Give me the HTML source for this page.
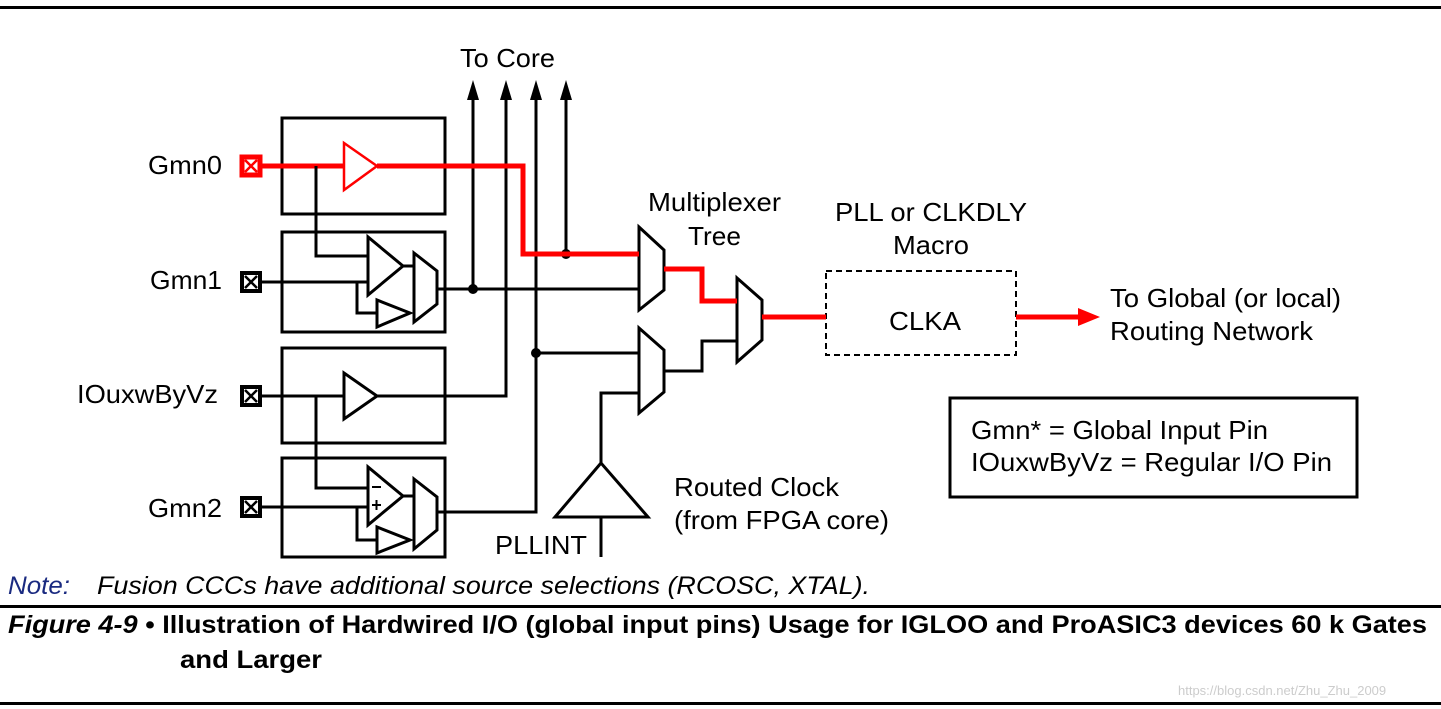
<!DOCTYPE html>
<html><head><meta charset="utf-8"><style>
body{margin:0;background:#fff;}
svg{display:block;font-family:"Liberation Sans",Arial,sans-serif;}
</style></head><body>
<svg width="1441" height="709" viewBox="0 0 1441 709" xmlns="http://www.w3.org/2000/svg">
<rect x="0" y="6" width="1441" height="3" fill="#000"/>
<rect x="0" y="605" width="1441" height="3" fill="#000"/>
<rect x="0" y="702" width="1441" height="3" fill="#000"/>
<g fill="none" stroke="#000" stroke-width="3">
<rect x="282" y="118" width="163" height="96"/>
<rect x="282" y="232" width="163" height="100"/>
<rect x="282" y="348" width="163" height="95"/>
<rect x="282" y="458" width="163" height="99"/>
<polyline points="316,166 316,256 368,256"/>
<line x1="262" y1="282" x2="368" y2="282"/>
<polyline points="357,282 357,313 377,313"/>
<polygon points="368,237 368,295 403,266"/>
<polygon points="377,300 377,327 410,313"/>
<line x1="403" y1="266" x2="414" y2="266"/>
<polygon points="414,253 437,271 437,304 414,322"/>
<line x1="437" y1="289" x2="639" y2="289"/>
<line x1="262" y1="396" x2="344" y2="396"/>
<polygon points="344,373 344,419 377,396"/>
<polyline points="377,396 506,396 506,92"/>
<polyline points="316,396 316,488 368,488"/>
<line x1="262" y1="507" x2="368" y2="507"/>
<polyline points="357,507 357,540 377,540"/>
<polygon points="368,467 368,525 403,496"/>
<polygon points="377,527 377,553 410,540"/>
<line x1="403" y1="496" x2="414" y2="496"/>
<polygon points="414,479 437,497 437,530 414,549"/>
<polyline points="437,512 536,512 536,92"/>
<line x1="473" y1="289" x2="473" y2="92"/>
<line x1="566" y1="254" x2="566" y2="92"/>
<line x1="536" y1="353" x2="639" y2="353"/>
<polygon points="639,227 664,250 664,290 639,310"/>
<polygon points="639,328 664,350 664,392 639,413"/>
<polyline points="664,371 702,371 702,341 737,341"/>
<polygon points="737,278 762,300 762,340 737,362"/>
<polyline points="639,393 601,393 601,463"/>
<polygon points="601,463 555,517 648,517"/>
<line x1="601" y1="517" x2="601" y2="557"/>
<rect x="826" y="271" width="190" height="84" stroke-width="2" stroke-dasharray="6,4"/>
<rect x="950" y="398" width="407" height="99"/>
<line x1="372" y1="487" x2="381" y2="487" stroke-width="2"/>
<line x1="372" y1="505" x2="381" y2="505" stroke-width="2"/>
<line x1="376.5" y1="500" x2="376.5" y2="510" stroke-width="2"/>
</g>
<g fill="#000">
<circle cx="473" cy="289" r="5"/><circle cx="536" cy="353" r="5"/><circle cx="566" cy="254" r="5"/>
<polygon points="473,80 467,100 479,100"/><polygon points="506,80 500,100 512,100"/>
<polygon points="536,80 530,100 542,100"/><polygon points="566,80 560,100 572,100"/>
</g>
<g fill="none" stroke="#f00" stroke-width="5">
<polyline points="262,166 344,166"/>
<polyline points="377,166 523,166 523,254 639,254"/>
<polyline points="664,269 702,269 702,301 737,301"/>
<line x1="762" y1="317" x2="826" y2="317"/>
<line x1="1016" y1="317" x2="1080" y2="317"/>
</g>
<polygon points="344,143 344,190 377,166" fill="none" stroke="#f00" stroke-width="2.5"/>
<polygon points="1078,308 1100,317 1078,326" fill="#f00"/>
<line x1="316" y1="166" x2="316" y2="180" stroke="#000" stroke-width="3"/>
<g fill="#fff">
<rect x="242" y="157" width="18" height="18" stroke="#f00" stroke-width="5"/>
<path d="M245,160 L257,172 M257,160 L245,172" stroke="#f00" stroke-width="2.5"/>
<rect x="242" y="273" width="18" height="18" stroke="#000" stroke-width="4"/>
<path d="M245,276 L257,288 M257,276 L245,288" stroke="#000" stroke-width="2.5"/>
<rect x="242" y="387" width="18" height="18" stroke="#000" stroke-width="4"/>
<path d="M245,390 L257,402 M257,390 L245,402" stroke="#000" stroke-width="2.5"/>
<rect x="242" y="498" width="18" height="18" stroke="#000" stroke-width="4"/>
<path d="M245,501 L257,513 M257,501 L245,513" stroke="#000" stroke-width="2.5"/>
</g>
<g font-size="26" fill="#000" lengthAdjust="spacingAndGlyphs">
<text x="460" y="67" textLength="95" lengthAdjust="spacingAndGlyphs">To Core</text>
<text x="148" y="174" textLength="74" lengthAdjust="spacingAndGlyphs">Gmn0</text>
<text x="150" y="289" textLength="72" lengthAdjust="spacingAndGlyphs">Gmn1</text>
<text x="77" y="403" textLength="141" lengthAdjust="spacingAndGlyphs">IOuxwByVz</text>
<text x="148" y="517" textLength="74" lengthAdjust="spacingAndGlyphs">Gmn2</text>
<text x="648" y="211" textLength="133" lengthAdjust="spacingAndGlyphs">Multiplexer</text>
<text x="688" y="245" textLength="53" lengthAdjust="spacingAndGlyphs">Tree</text>
<text x="835" y="221" textLength="192" lengthAdjust="spacingAndGlyphs">PLL or CLKDLY</text>
<text x="893" y="254" textLength="76" lengthAdjust="spacingAndGlyphs">Macro</text>
<text x="889" y="330" textLength="72" lengthAdjust="spacingAndGlyphs">CLKA</text>
<text x="1110" y="307" textLength="231" lengthAdjust="spacingAndGlyphs">To Global (or local)</text>
<text x="1110" y="340" textLength="203" lengthAdjust="spacingAndGlyphs">Routing Network</text>
<text x="971" y="439" textLength="297" lengthAdjust="spacingAndGlyphs">Gmn* = Global Input Pin</text>
<text x="971" y="471" textLength="361" lengthAdjust="spacingAndGlyphs">IOuxwByVz = Regular I/O Pin</text>
<text x="674" y="496" textLength="165" lengthAdjust="spacingAndGlyphs">Routed Clock</text>
<text x="674" y="529" textLength="215" lengthAdjust="spacingAndGlyphs">(from FPGA core)</text>
<text x="495" y="554" textLength="92" lengthAdjust="spacingAndGlyphs">PLLINT</text>
</g>
<text x="8" y="594" font-size="25" font-style="italic" fill="#1a2a80" textLength="62" lengthAdjust="spacingAndGlyphs">Note:</text>
<text x="97" y="594" font-size="25" font-style="italic" fill="#000" textLength="773" lengthAdjust="spacingAndGlyphs">Fusion CCCs have additional source selections (RCOSC, XTAL).</text>
<text x="8" y="633" font-size="25" font-weight="bold" textLength="1419" lengthAdjust="spacingAndGlyphs"><tspan font-style="italic">Figure 4-9</tspan> • Illustration of Hardwired I/O (global input pins) Usage for IGLOO and ProASIC3 devices 60 k Gates</text>
<text x="180" y="668" font-size="25" font-weight="bold" textLength="142" lengthAdjust="spacingAndGlyphs">and Larger</text>
<text x="1178" y="695" font-size="13" fill="#ccc">https://blog.csdn.net/Zhu_Zhu_2009</text>
</svg>
</body></html>
